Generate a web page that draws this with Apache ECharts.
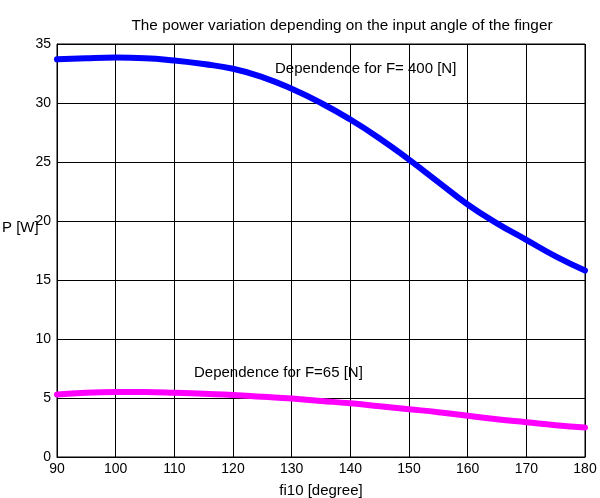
<!DOCTYPE html>
<html>
<head>
<meta charset="utf-8">
<script src="https://cdn.jsdelivr.net/npm/echarts@6/dist/echarts.min.js"></script>
<style>
  html, body { margin: 0; padding: 0; background: #fff; }
  #chart { width: 600px; height: 498px; }
</style>
</head>
<body>
<div id="chart"></div>
<script>
// fi10 angle [degree]
var angles = [90, 95, 100, 105, 110, 115, 120, 125, 130, 135, 140, 145, 150, 155, 160, 165, 170, 175, 180];
// power for F = 400 N
var power400 = [33.7, 33.8, 33.85, 33.8, 33.6, 33.3, 32.9, 32.2, 31.2, 30.0, 28.6, 27.0, 25.2, 23.3, 21.4, 19.8, 18.4, 17.0, 15.8];
// power for F = 65 N
var power65 = [5.3, 5.45, 5.5, 5.5, 5.45, 5.35, 5.25, 5.1, 4.95, 4.75, 4.55, 4.3, 4.05, 3.8, 3.5, 3.2, 2.95, 2.7, 2.5];

var xTicks = { min: 90, max: 180, step: 10 };
var yTicks = { min: 0, max: 35, step: 5 };

function pairs(xs, ys) {
  return xs.map(function (x, i) { return [x, ys[i]]; });
}

var chart = echarts.init(document.getElementById('chart'));

var font = 'Liberation Sans, Arial, sans-serif';

var option = {
  animation: false,
  backgroundColor: '#fff',
  title: {
    text: 'The power variation depending on the input angle of the finger',
    left: 337,
    textAlign: 'center',
    top: 13,
    textStyle: { fontFamily: font, fontSize: 15.3, fontWeight: 'normal', color: '#000' }
  },
  grid: { left: 57, right: 15, top: 44, bottom: 41, outerBoundsMode: 'none' },
  xAxis: {
    type: 'value',
    min: xTicks.min,
    max: xTicks.max,
    interval: xTicks.step,
    name: 'fi10 [degree]',
    nameLocation: 'middle',
    nameGap: 26,
    nameTextStyle: { fontFamily: font, fontSize: 15, color: '#000' },
    axisLine: { lineStyle: { color: '#000', width: 1 } },
    axisTick: { show: false },
    axisLabel: { fontFamily: font, fontSize: 14, color: '#000', margin: 5 },
    splitLine: { show: true, lineStyle: { color: '#000', width: 1 } }
  },
  yAxis: {
    type: 'value',
    min: yTicks.min,
    max: yTicks.max,
    interval: yTicks.step,
    axisLine: { show: true, lineStyle: { color: '#000', width: 1 } },
    axisTick: { show: false },
    axisLabel: { fontFamily: font, fontSize: 14, color: '#000', margin: 6 },
    splitLine: { show: true, lineStyle: { color: '#000', width: 1 } }
  },
  graphic: [
    { type: 'text', left: 2, top: 220, style: { text: 'P [W]', font: '15px ' + font, fill: '#000' } },
    { type: 'text', left: 275, top: 61, style: { text: 'Dependence for F= 400 [N]', font: '15px ' + font, fill: '#000' } },
    { type: 'text', left: 194, top: 365, style: { text: 'Dependence for F=65 [N]', font: '15px ' + font, fill: '#000' } },
    // right/top frame
    { type: 'rect', shape: { x: 57, y: 44, width: 528, height: 413 }, style: { fill: 'none', stroke: '#000', lineWidth: 1 }, z: 1 }
  ],
  series: [
    {
      name: 'F=400',
      type: 'line',
      data: pairs(angles, power400),
      smooth: true,
      showSymbol: false,
      lineStyle: { color: '#0000ff', width: 6, cap: 'round' },
      z: 5
    },
    {
      name: 'F=65',
      type: 'line',
      data: pairs(angles, power65),
      smooth: true,
      showSymbol: false,
      lineStyle: { color: '#ff00ff', width: 6, cap: 'round' },
      z: 5
    }
  ]
};

chart.setOption(option);
</script>
</body>
</html>
